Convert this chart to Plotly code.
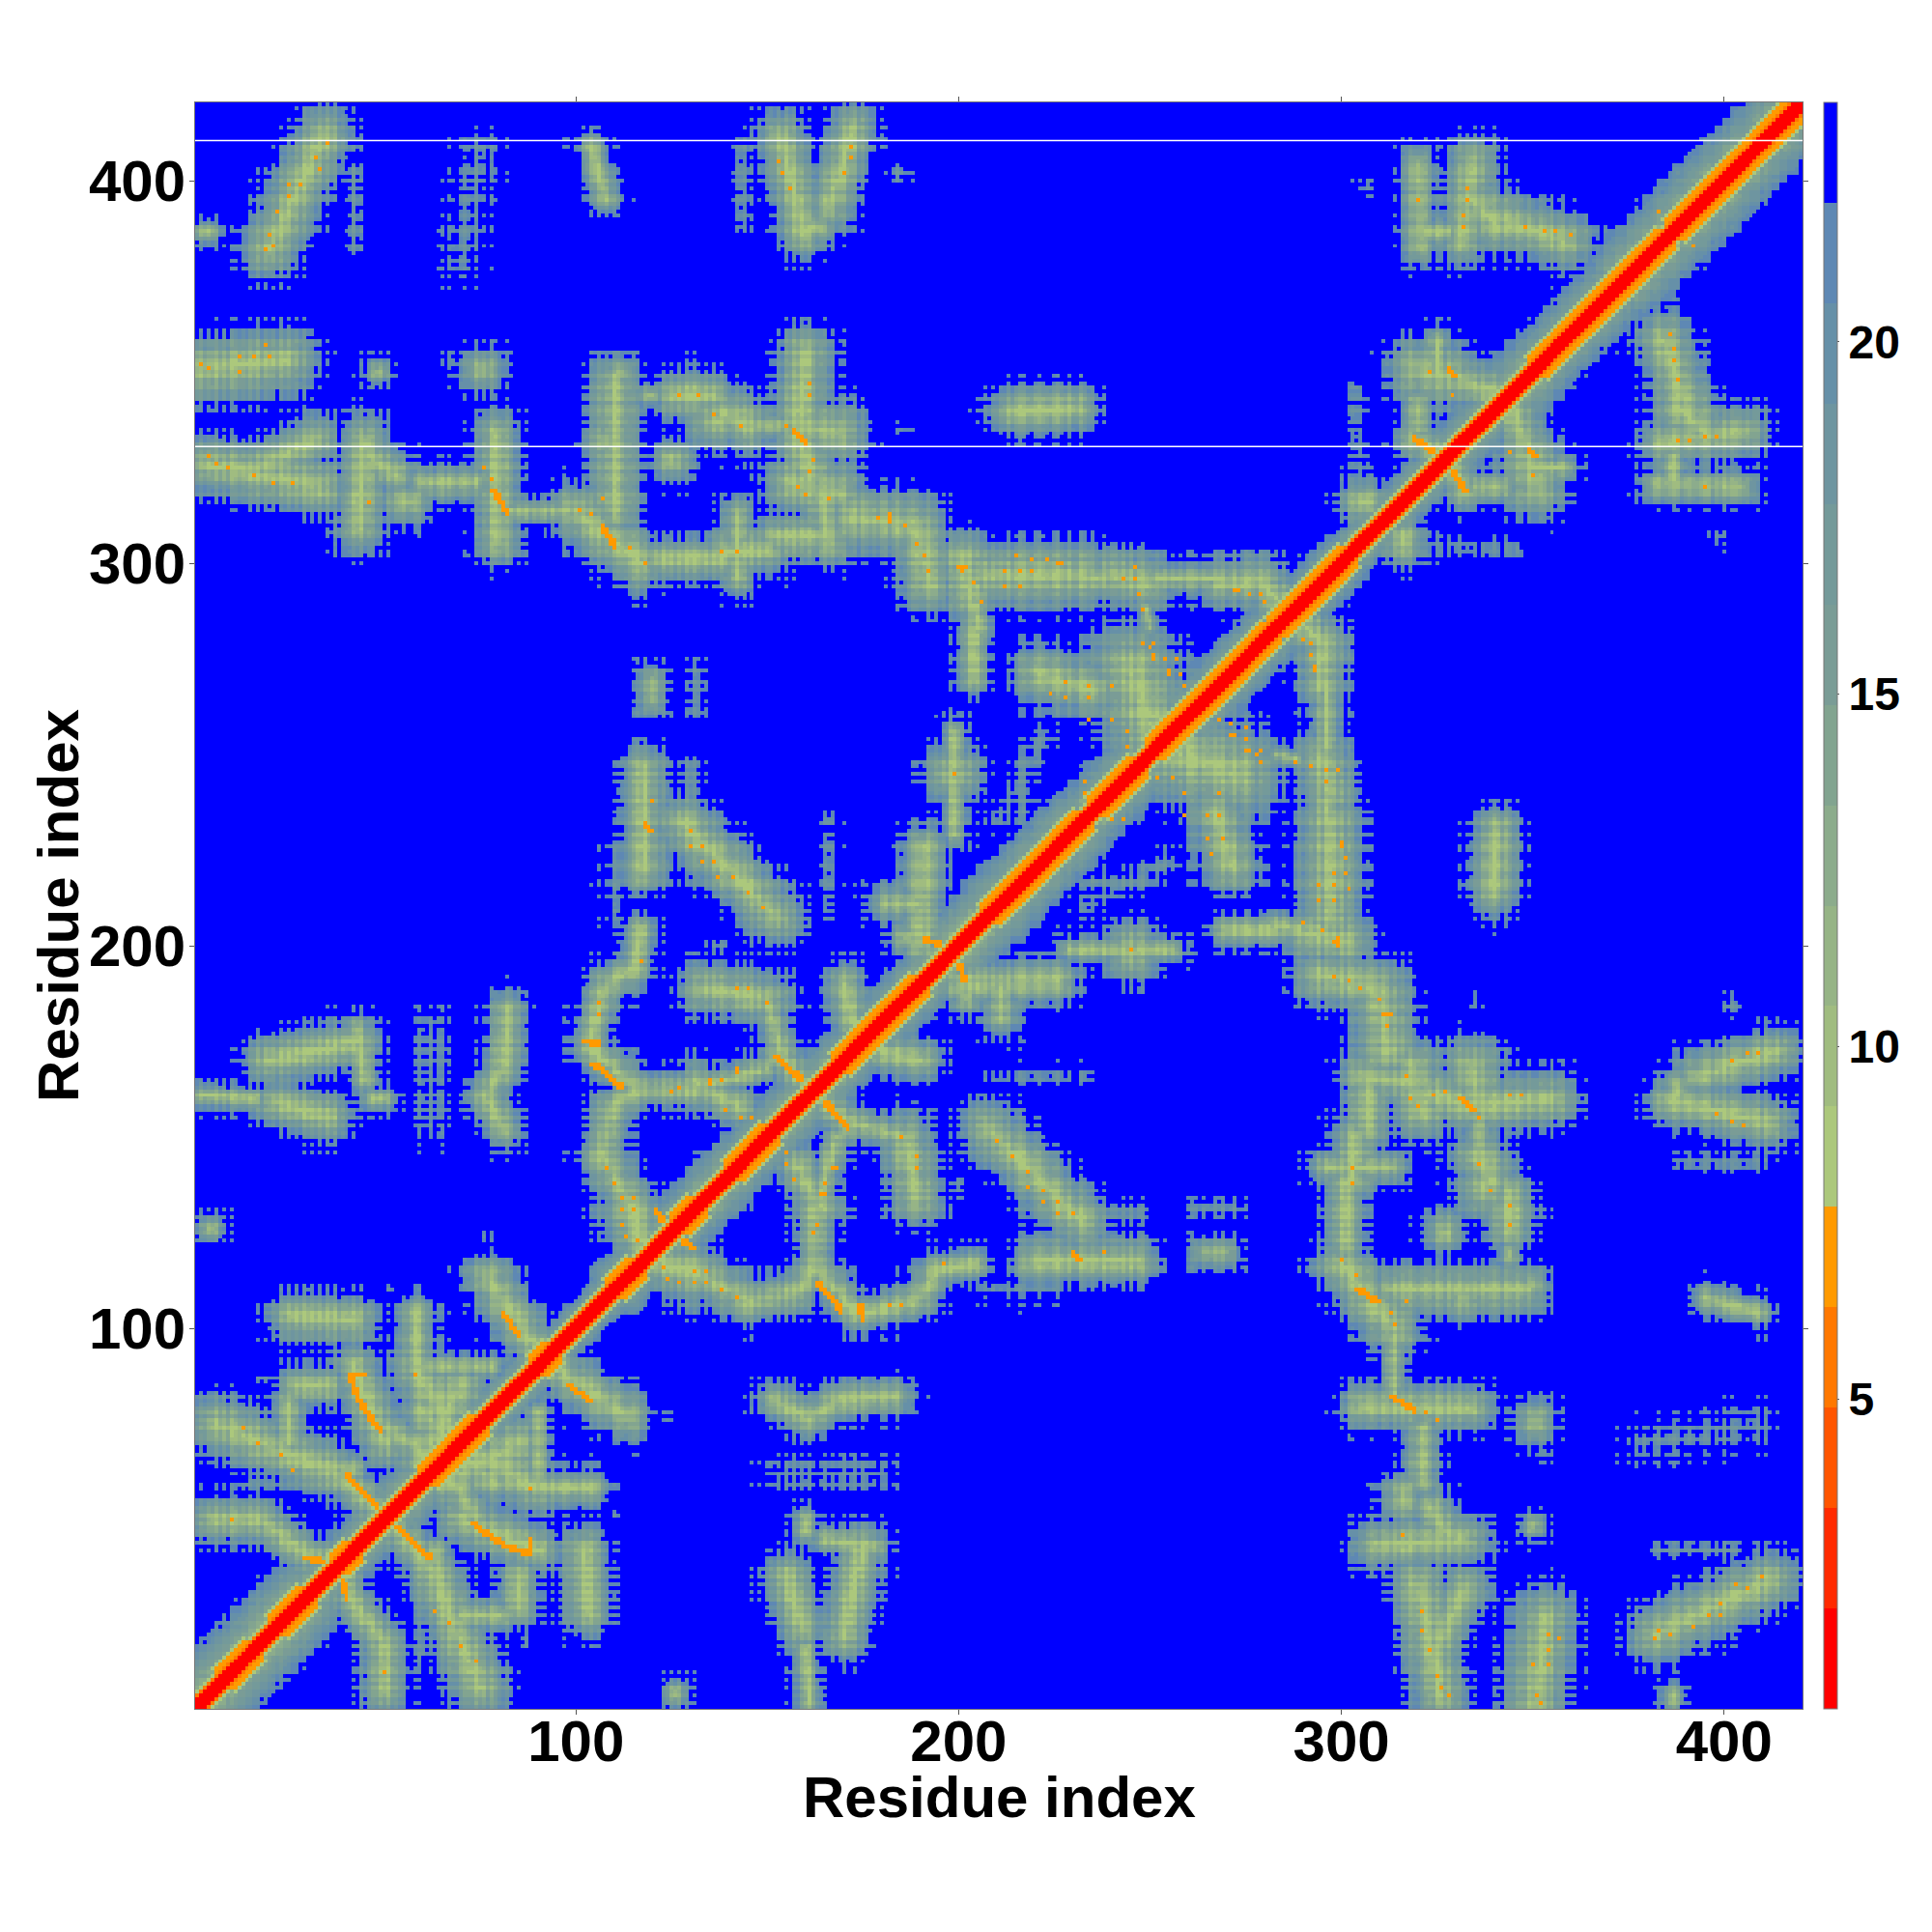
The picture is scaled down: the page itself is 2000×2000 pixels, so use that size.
import numpy as np
import plotly.graph_objects as go

N_RES = 420
x_tick_vals = [100, 200, 300, 400]
y_tick_vals = [100, 200, 300, 400]
bar_tick_vals = [5, 10, 15, 20]
axis_label = "Residue index"
z_low, z_high = 0.6, 23.4
band_colors = ["#ff0000", "#ff2a00", "#ff5500", "#ff7800", "#ff9a00",
               "#acc87c", "#a0bc80", "#96b486", "#8cac8c", "#82a490",
               "#7a9c96", "#749a9a", "#6e95a0", "#6690a8", "#5e88b4", "#0000ff"]
seam_rows = [330.5, 410.5]

# contact ridges: x0, y0, x1, y1, half-width (residues), lower triangle only
diagonal_band = [(1, 1, 28, 28, 12), (28, 28, 50, 50, 8), (50, 50, 75, 75, 9), (75, 75, 95, 95, 7),
                 (95, 95, 112, 112, 6), (112, 112, 135, 135, 9), (135, 135, 160, 160, 9.5),
                 (160, 160, 195, 195, 9), (195, 195, 230, 230, 11), (230, 230, 260, 260, 10),
                 (260, 260, 285, 285, 9), (285, 285, 300, 300, 8), (300, 300, 325, 325, 7),
                 (325, 325, 345, 345, 8), (345, 345, 375, 375, 10), (375, 375, 420, 420, 12)]
ridges_n_domain = [(39, 40, 41, 29, 4), (41, 29, 50, 18, 5), (50, 18, 50, 5, 5.5), (63, 42, 64, 30, 3.5),
                   (63, 35, 75, 6, 7), (102, 42, 103, 26, 6), (70, 50, 90, 42, 6), (70, 25, 80, 25, 4),
                   (85, 35, 85, 27, 5), (52, 49, 63, 36, 5), (70, 69, 90, 58, 7), (66, 60, 85, 70, 7),
                   (90, 58, 104, 58, 4.5), (90, 78, 90, 60, 3.2), (94, 90, 113, 77, 6),
                   (66, 72, 78, 60, 6), (68, 60, 74, 50, 5), (120, 118, 130.6, 114.7, 8),
                   (126, 5, 126, 4, 3)]
ridges_middle = [(130.6, 114.7, 145, 107, 5.5), (145, 107, 158, 109.6, 5), (158, 109.6, 162.5, 115.5, 4.5),
                 (162.5, 115.5, 173.5, 103.7, 4.5), (173.5, 103.7, 175, 103.7, 4.5), (175, 103.7, 190, 108, 4.5),
                 (190, 108, 194.5, 115.5, 4.5), (194.5, 115.5, 204, 117, 4),
                 (162.5, 117, 162.5, 132, 4.5), (163, 132, 168, 150, 3.4), (158, 142, 164, 132, 5.5),
                 (165, 159, 171, 152.6, 4.5), (186, 150, 189, 134, 6.5), (171, 154, 186, 150, 4),
                 (180, 172, 190, 170, 5), (208, 152, 232, 128, 7), (220, 118, 246, 118, 6),
                 (264, 120, 270, 120, 3.5), (152, 81, 161, 76, 4.5), (161, 76, 168, 81, 4.5),
                 (168, 81, 183, 82, 4.5), (160, 50, 160, 47, 3), (155, 35, 159, 22, 6),
                 (175, 43, 170, 20, 6), (165, 45, 178, 43, 3.5), (160, 16, 161, 2, 3),
                 (245, 199, 245, 198, 7), (229, 199, 256, 199, 3), (200.5, 190, 226, 191, 5.5),
                 (211, 191, 211, 181, 4.5), (202, 186.5, 202, 186, 4),
                 (267, 235, 271, 221, 7), (258, 250, 272, 245, 12), (268, 232, 271, 221, 7),
                 (270, 204, 283, 204, 4), (287, 287, 296, 278, 6)]
ridges_c_domain = [(300, 117, 313.5, 100, 7), (301, 139, 301, 121, 5), (313, 110, 348, 110, 6),
                   (332, 109, 332, 108, 6), (350, 112, 350, 111, 3.5), (313.5, 100, 313.5, 82, 3),
                   (305.5, 79.5, 334, 79, 5.5), (321, 74, 321, 60, 4), (316, 56, 316, 55, 6),
                   (310, 43.5, 332, 45, 6.5), (323, 53, 328, 46, 5.5), (320, 33, 326, 4, 7),
                   (332.5, 32, 326, 19, 6), (353, 24, 350.5, 1, 8), (382, 20, 412, 34, 7),
                   (386.6, 4, 386.6, 3, 3), (350.5, 76, 350.5, 75, 5), (350, 49, 350, 48, 3),
                   (395, 108, 409, 104, 3.5), (344, 135, 344, 126, 6), (327, 125.5, 327, 124.5, 5),
                   (337, 137, 337, 136, 7), (344, 120, 344, 119, 3),
                   (295, 280, 295, 268, 6), (296, 268, 296, 252, 3.5), (295, 249, 297, 240, 7),
                   (296, 238, 296, 235, 5), (297, 232, 297, 208, 8), (283, 250, 288, 249, 2),
                   (283, 205.6, 292, 203, 3.5), (292, 203, 301, 201, 7), (294.6, 192, 310, 189.4, 7),
                   (310, 187, 312, 172, 8), (305.4, 166, 319, 164, 6), (307, 163, 307, 152, 6),
                   (319, 168, 321, 156, 7), (323.5, 161.5, 333.4, 158, 7), (333.4, 158, 355, 160, 7),
                   (334, 168, 336, 158, 8), (336, 154, 336, 147, 3.5), (336, 145, 339, 139, 7),
                   (303.6, 150, 303, 139, 6), (296, 142, 313, 142, 4), (340.6, 230, 339.7, 214, 6),
                   (393, 166, 413.6, 172.3, 6), (386, 159.6, 412, 153.4, 6), (388, 163, 388, 162, 5),
                   (384, 358.8, 390, 341.6, 7), (388.4, 340.7, 395.6, 333.5, 7), (384, 331.7, 405.5, 334.4, 6),
                   (386.6, 327, 386.6, 322.7, 3.5), (382, 320.5, 404.6, 320, 4), (349, 328, 350.5, 320, 8),
                   (350, 325, 358, 325, 3.5), (345, 339, 348, 331.7, 6), (335, 320, 342, 320, 3.5),
                   (328, 326, 332.5, 319, 5), (316, 306.5, 316, 305.5, 6)]
# sparse crosshatched patches: x0, y0, x1, y1, half-width
hatch_patches = [(208, 110, 225, 110, 6), (237, 130, 246, 130, 7), (263, 132, 272, 132, 5),
                 (200, 134, 200, 139, 3), (153, 62, 179, 62, 8), (379, 70, 409, 75, 9),
                 (382, 42, 403, 42, 4), (390, 143, 409, 143, 5), (335, 186, 335, 185, 3),
                 (402, 185, 402, 184, 4), (208, 166, 233, 166, 4), (235, 217, 248, 217, 6),
                 (232, 210, 255, 222, 6), (321, 305, 346, 304, 4), (398, 307, 398, 306, 4),
                 (110, 52, 110, 51, 2), (87, 19, 87, 18, 2.5), (124, 77, 124, 76, 2.5), (347, 70, 353, 68, 4),
                 (60, 15, 60, 30, 6)]
# short-distance streaks and single contacts
close_streaks = [(73, 49, 81, 43.5), (81, 43.5, 88, 41), (88, 41, 88, 44.5), (52, 49, 62, 40),
                 (98, 85, 104, 81), (39, 35, 40, 29), (126, 124, 131, 121), (163, 112, 169.3, 104.6),
                 (174.4, 105.7, 175, 102.6), (230, 120, 231, 118), (304.5, 110, 309.5, 107),
                 (313.6, 81.8, 319, 78.7), (298.7, 201.6, 299, 200), (310.9, 182.2, 312.7, 181.8),
                 (331.6, 160, 334.3, 157), (165, 159, 171, 152.6), (200.5, 194.8, 201.4, 191.2),
                 (328, 326, 332.5, 319), (348.7, 329.5, 350.5, 328)]
close_x = [74, 70, 63, 67, 50, 88, 181.6, 184.7, 232.5, 238.4, 195.6, 162.6, 162, 164.4, 165, 221.7, 218,
           225.6, 230, 221.7, 225.8, 300, 313.6, 313, 317, 304.4, 322, 325.3, 320.8, 321.2, 323, 325.3,
           325.7, 327.8, 316, 353.7, 357.3, 354, 350.5, 354, 351.4, 352, 382.5, 383.3, 386.4, 395.6,
           399.2, 399.2, 392.3, 406.3, 410.3, 403.3, 339.3, 344.2, 344.2, 303.2, 292.4, 293.3, 300.5,
           301.4, 297.8, 301.4, 297.8, 294.2, 302.3, 289.7, 294.6, 298.2, 302.3, 305.4, 310.4, 312.2,
           317.2, 318, 320.3, 324.4, 327, 336, 344.2, 347.4, 402.4, 406.4, 409.2, 401.5, 405.4, 398.3,
           303.2, 336.1, 245, 265.4, 265, 268, 217.6, 210.4, 213.6, 188.8, 166.7, 267.7, 270.8, 275,
           275.4, 278.5, 271.3, 350.5, 344.2, 385.7, 386.6, 387, 387.5, 394.7, 391, 388, 398.3, 395.2, 392,
           123, 124.5, 127, 131, 134, 131, 134, 138, 142, 185, 189, 189, 167.6, 165, 164.6, 157, 155.4, 155,
           290, 292, 292.5, 293.4, 268, 271, 275, 272, 275.7, 279, 279, 269, 266, 288, 292, 296, 299, 296,
           259, 268, 259, 255.5, 252, 239.5, 243, 300.5, 301.4, 298, 298.4, 294.2]
close_y = [13, 17, 26, 23, 10, 58, 105.7, 105.7, 117.5, 120, 117, 127, 124.7, 135, 138, 136.4, 136.8,
           133, 130, 133, 130, 117.6, 100.8, 103.8, 107, 114.3, 77.6, 76.3, 26, 21.4, 15.6, 8.8,
           5.8, 3.8, 45.8, 19.6, 19.3, 15.6, 11.8, 11.8, 4, 1.9, 19.2, 21.4, 19.8, 24.9,
           28.4, 24.9, 21.9, 32.2, 34.9, 32.9, 136, 131.9, 126.9, 137.7, 276, 272.4, 226.4,
           222.8, 219, 219, 215.8, 215.8, 215, 205.7, 203.7, 191.7, 191.4, 189.4, 185.8, 178.8,
           166, 159.8, 157.9, 161, 161.5, 155, 160.6, 160.7, 170, 171.7, 171.7, 153.5, 153.4, 155.6,
           141.6, 143, 199.3, 233.6, 228.2, 233.8, 140.7, 148.9, 144.8, 145, 142.5, 258.9, 258, 254.4,
           250.8, 249.8, 254.8, 322.9, 329, 359.7, 356.3, 352.9, 348, 333, 332.2, 331.7, 332.6, 320, 383.3,
           116, 112.8, 112, 112, 112.5, 115, 115, 110, 108, 150, 145, 142, 142.5, 138, 134.9, 139, 143, 146,
           280, 279, 276, 272.6, 258.7, 258, 257.4, 254.9, 251, 250.7, 248, 228, 224, 247.7, 247, 246, 246, 243,
           240, 240, 234, 244, 244, 233.4, 233.4, 226.7, 223, 215.7, 212, 212]
helix_ranges = [(8, 16), (22, 30), (38, 42), (61, 75), (90, 94), (110, 116), (127, 132), (141, 151),
                (169, 190), (208, 233), (236, 247), (251, 282), (283, 302), (351, 385), (387, 420)]
# per-residue crosshatch estimate (0 = shorter distances along that row and column, 9 = longer)
crosshatch_digits = ("5274618390" "2647150836" "4916273805" "3728160945" "6150842739" "1846397205"
                     "7392061584" "2581749036" "6037251948" "4192860375" "8250417693" "3674105289"
                     "5916382704" "0473926158" "7261508394" "4839160725" "1695273840" "6308147592"
                     "2950684137" "8142739065" "3706152948" "5829401673" "1467305829" "9035268174"
                     "4728193056" "6251847390" "0394672518" "7185036924" "2649158307" "5370926481"
                     "8016473259" "3592714068" "6248039175" "1757382640" "4903615827" "7236094185"
                     "2861573904" "5049281736" "9317640285" "3685129470" "6124857309" "0572936418")


def seg_dist(i, j, x0, y0, x1, y1):
    dx, dy = x1 - x0, y1 - y0
    t = np.clip(((i - x0) * dx + (j - y0) * dy) / max(dx * dx + dy * dy, 1e-9), 0, 1)
    return np.hypot(i - x0 - t * dx, j - y0 - t * dy)


def ridge_value(r, w):
    return 9.0 + 13.5 * np.minimum(r / w, 1.0) + 0.9 * np.maximum(r - w, 0.0)


res = np.arange(1, N_RES + 1)
ii, jj = np.meshgrid(res, res)
row_col = np.array([(int(c) - 4.5) * 0.45 for c in crosshatch_digits])
plaid = row_col[:, None] + row_col[None, :]

dist = np.full((N_RES, N_RES), 30.0)
for x0, y0, x1, y1, w in diagonal_band:
    dist = np.minimum(dist, ridge_value(seg_dist(ii, jj, x0, y0, x1, y1), w) + 0.4 * plaid)
for group in (ridges_n_domain, ridges_middle, ridges_c_domain):
    for x0, y0, x1, y1, w in group:
        dist = np.minimum(dist, ridge_value(seg_dist(ii, jj, x0, y0, x1, y1), 1.25 * w) + plaid)
for x0, y0, x1, y1, w in hatch_patches:
    dist = np.minimum(dist, 20.0 + 6.0 * seg_dist(ii, jj, x0, y0, x1, y1) / w + plaid)
dist = np.maximum(dist, 8.0)

for x0, y0, x1, y1 in close_streaks:
    dist = np.where(seg_dist(ii, jj, x0, y0, x1, y1) < 0.8, 6.9, dist)
for x, y in zip(close_x, close_y):
    dist[int(round(y)) - 1, int(round(x)) - 1] = 6.9

# lower triangle (x > y) mirrored onto the upper one
lower = np.tril(dist.T, -1)
dist = lower + lower.T

sep = np.abs(ii - jj)
mid = (ii + jj) / 2
in_helix = np.zeros_like(dist, dtype=bool)
for a, b in helix_ranges:
    in_helix |= (mid >= a) & (mid <= b)
near_plain = {0: 0.8, 1: 1.0, 2: 1.9, 3: 6.0, 4: 8.4}
near_helix = {0: 0.8, 1: 1.0, 2: 1.9, 3: 6.0, 4: 6.9, 5: 7.3, 6: 8.2}
for s, v in near_plain.items():
    dist = np.where((sep == s) & ~in_helix, v, dist)
for s, v in near_helix.items():
    dist = np.where((sep == s) & in_helix, v, dist)

n_bands = len(band_colors)
stepped = []
for k, c in enumerate(band_colors):
    stepped += [[k / n_bands, c], [(k + 1) / n_bands, c]]

fig = go.Figure(go.Heatmap(
    x=res, y=res, z=dist, zmin=z_low, zmax=z_high, colorscale=stepped, hoverongaps=False,
    colorbar=dict(x=1.0132, xanchor="left", xpad=0, ypad=0, y=0, yanchor="bottom", len=1, thickness=14,
                  tickvals=bar_tick_vals, ticks="outside", ticklen=2, tickcolor="#555", tickwidth=1,
                  outlinewidth=1, outlinecolor="#777",
                  tickfont=dict(family="Liberation Sans", size=48, weight="bold", color="black")),
))
for yv in seam_rows:
    fig.add_shape(type="line", xref="x", yref="y", x0=0.5, x1=N_RES + 0.5, y0=yv, y1=yv,
                  line=dict(color="white", width=1.5))
title_font = dict(family="Liberation Sans", size=60, weight="bold", color="black")
fig.add_annotation(text=axis_label, xref="paper", yref="paper", x=0.5, y=-0.0552, xanchor="center",
                   yanchor="middle", showarrow=False, font=title_font)
fig.add_annotation(text=axis_label, xref="paper", yref="paper", x=-0.0851, y=0.5, xanchor="center",
                   yanchor="middle", showarrow=False, textangle=-90, font=title_font)
axis_style = dict(range=[0.5, N_RES + 0.5], showgrid=False, zeroline=False, showline=True, linecolor="#777",
                  linewidth=1, mirror="allticks", ticks="outside", ticklen=5, tickcolor="#555", tickwidth=1,
                  tickfont=dict(family="Liberation Sans", size=60, weight="bold", color="black"))
fig.update_xaxes(tickvals=x_tick_vals, ticklabelstandoff=-24, **axis_style)
fig.update_yaxes(tickvals=y_tick_vals, ticklabelstandoff=-8, **axis_style)
fig.update_layout(width=2000, height=2000, margin=dict(l=194, r=142, t=98, b=239, autoexpand=False),
                  paper_bgcolor="white", plot_bgcolor="white")
fig.write_html("out.html")
